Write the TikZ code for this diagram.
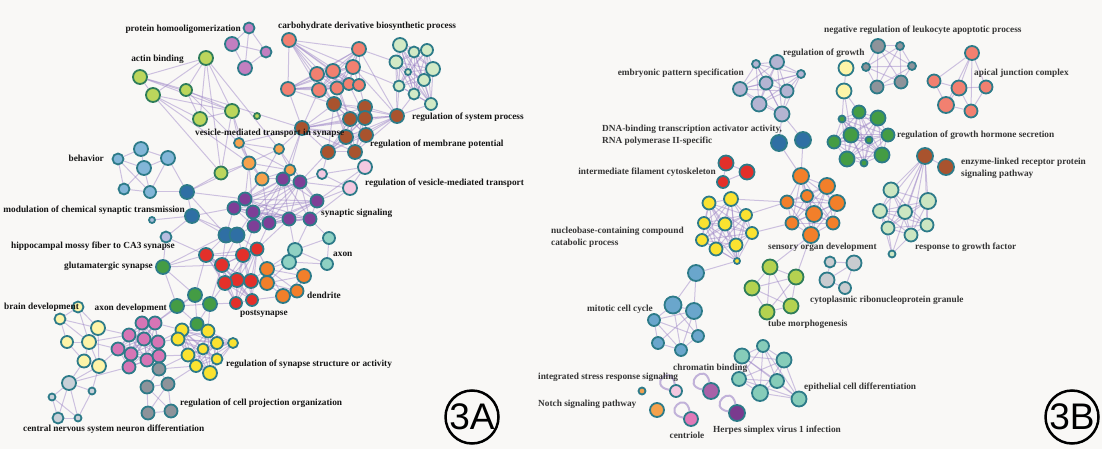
\documentclass[tikz,border=0pt]{standalone}
\usepackage{fontspec}
\setmainfont{Liberation Serif}
\newfontfamily\sansf{Liberation Sans}
\pgfdeclarelayer{back}
\pgfdeclarelayer{bg}
\pgfsetlayers{back,bg,main}
\definecolor{bgc}{HTML}{F9F8F6}
\definecolor{edc}{HTML}{9C84C6}
\definecolor{olT}{HTML}{2D7B89}
\definecolor{olG}{HTML}{2F7D5A}
\definecolor{cPHO}{HTML}{C27FC0}
\definecolor{cACT}{HTML}{BCD65C}
\definecolor{cBEH}{HTML}{82B6D8}
\definecolor{cBLU}{HTML}{2F6FA4}
\definecolor{cSM}{HTML}{A9BCD9}
\definecolor{cHIP}{HTML}{B8BDE0}
\definecolor{cSAL}{HTML}{F28070}
\definecolor{cBRN}{HTML}{A9532E}
\definecolor{cLGR}{HTML}{D2EAC6}
\definecolor{cORG}{HTML}{F6A24C}
\definecolor{cPUR}{HTML}{7E3F97}
\definecolor{cLPK}{HTML}{F4C8E0}
\definecolor{cRED}{HTML}{E3302A}
\definecolor{cDOR}{HTML}{F27F2A}
\definecolor{cTEA}{HTML}{8FD1C3}
\definecolor{cGRN}{HTML}{449C44}
\definecolor{cLYE}{HTML}{FDF4A8}
\definecolor{cLGY}{HTML}{C8D0D8}
\definecolor{cPNK}{HTML}{D675B5}
\definecolor{cGRY}{HTML}{8D939A}
\definecolor{cYEL}{HTML}{FAE230}
\definecolor{cLAV}{HTML}{B4B4D2}
\definecolor{cPGB}{HTML}{CCE6C2}
\definecolor{cYGB}{HTML}{B4D250}
\definecolor{cMBB}{HTML}{6AA6CC}
\definecolor{cTGB}{HTML}{86CCB9}
\definecolor{cLGB}{HTML}{C9CCD0}
\definecolor{cOR1}{HTML}{F0A050}
\definecolor{cPU1}{HTML}{A862A8}
\definecolor{cPK1}{HTML}{E079B8}
\definecolor{cDP1}{HTML}{7A3A8E}
\definecolor{labA}{HTML}{161616}
\definecolor{labB}{HTML}{363636}
\newcommand\cl[4]{\foreach \x/\y/\d [count=\k] in {#4}
  {\node[nd,fill=#2,draw=#3,minimum size=\d pt] (#1\k) at (\x,\y) {};}}
\newcommand\clq[2]{\foreach \i in {1,...,#2}{\foreach \j in {1,...,#2}{\ifnum\i<\j \draw[ed] (#1\i) -- (#1\j);\fi}}}
\newcommand\eds[1]{\foreach \p/\q in {#1} {\draw[ed] (\p) -- (\q);}}
\tikzset{
  nd/.style={circle, inner sep=0pt, line width=1.8pt},
  ed/.style={draw=edc, line width=1pt, opacity=0.48},
  lpst/.style={draw=edc, line width=2pt, opacity=0.6},
  lab/.style={inner sep=0pt, font=\bfseries\fontsize{9.3}{12}\selectfont, text=labA},
  labb/.style={lab, text=labB},
  tag/.style={circle, draw=black, line width=2.5pt, minimum size=53pt, inner sep=0pt, font=\sansf\fontsize{37}{40}\selectfont}
}
\begin{document}
\begin{tikzpicture}[x=1pt,y=-1pt]
\useasboundingbox (0,0) rectangle (1102,449);
\begin{pgfonlayer}{back}
\fill[bgc] (0,0) rectangle (1102,449);
\end{pgfonlayer}
% ---------------- Panel A nodes
\cl{pho}{cPHO}{olT}{249/28/11,232/44/14,266/52/11,245/68/14}
\cl{act}{cACT}{olG}{206/58/14,140/77/14,153/95/14,186/90/12,232/111/14,200/119/14,221/173/13,257/116/6}
\cl{beh}{cBEH}{olT}{141/149/14,118/159/11,168/158/14,144/168/14,124/189/11,150/192/12}
\cl{blu}{cBLU}{olT}{187/192/14,192/216/14,226/235/15,237/235/15}
\node[nd,fill=cSM,draw=olT,minimum size=6pt] (sm1) at (152,220) {};
\node[nd,fill=cHIP,draw=olT,minimum size=11pt] (hip) at (166,237) {};
\cl{sal}{cSAL}{olT}{289/40/14,359/49/14,353/67/14,317/74/14,333/71/14,288/89/14,319/90/14,337/88/13,349/84/12,359/85/12}
\cl{brn}{cBRN}{olT}{334/104/14,365/107/14,397/116/14,350/119/14,365/118/14,302/128/14,346/137/14,366/135/14,328/152/14,355/152/14}
\cl{lgr}{cLGR}{olT}{400/45/14,414/52/11,427/50/12,396/62/13,433/69/14,408/72/6,424/80/12,399/86/11,414/94/11,431/104/12}
\cl{org}{cORG}{olT}{239/143/10,279/149/10,249/163/13,262/179/13,290/170/11}
\cl{pur}{cPUR}{olT}{283/179/13,300/182/13,245/199/13,234/208/13,253/212/13,254/226/13,269/223/13,289/219/13,310/219/13,317/201/13}
\cl{lpk}{cLPK}{olT}{322/174/10,365/167/14,350/188/14}
\cl{red}{cRED}{olT}{206/255/14,222/265/14,243/255/14,257/249/13,237/280/14,251/281/14,225/283/14,236/303/12,252/300/12}
\cl{dor}{cDOR}{olT}{267/269/14,267/283/14,304/276/14,283/296/14,297/291/13}
\cl{tea}{cTEA}{olT}{329/238/12,295/250/14,289/262/14,327/264/12}
\cl{grn}{cGRN}{olT}{163/267/14,195/295/14,177/306/14,210/304/14,197/324/13}
\cl{lye}{cLYE}{olT}{78/307/11,60/319/11,98/328/14,67/342/12,89/342/14,84/361/13,99/366/14}
\cl{lgy}{cLGY}{olT}{69/383/14,52/397/7,92/391/7,58/418/11,78/418/7}
\cl{pnk}{cPNK}{olT}{142/323/13,155/323/13,129/335/13,144/339/13,158/342/13,118/349/13,131/354/13,147/360/13,159/356/13,129/367/13}
\cl{gry}{cGRY}{olT}{159/369/13,147/387/13,168/384/13,148/413/13,171/411/13}
\cl{yel}{cYEL}{olT}{182/330/13,178/339/13,208/331/13,217/343/12,233/343/10,188/355/13,203/349/11,217/359/11,196/366/12,210/373/14}
% ---------------- Panel B nodes
\cl{lav}{cLAV}{olT}{756/64/8,777/62/14,801/74/8,740/89/14,766/83/13,787/91/13,759/104/15,782/114/15}
\cl{dbl}{cBLU}{olT}{779/143/16,803/140/16}
\cl{rdb}{cRED}{olT}{726/163/15,747/172/15,723/182/12}
\cl{yeb}{cYEL}{olT}{709/203/13,731/199/14,746/215/12,704/223/12,725/224/13,752/233/12,702/240/12,716/249/13,736/245/13,737/261/6}
\cl{orb}{cDOR}{olT}{801/176/16,827/186/16,807/196/12,787/202/13,837/203/16,814/214/16,792/223/13,833/223/13,811/235/16}
\cl{pgb}{cPGB}{olT}{891/190/15,928/201/16,880/211/14,905/212/14,927/225/13,888/228/13,911/235/13,892/254/7}
\cl{brb}{cBRN}{olT}{925/156/16,946/167/16}
\cl{grb}{cGRN}{olT}{859/112/13,878/118/15,842/119/7,888/135/13,851/135/15,869/140/7,834/142/13,882/155/15,847/159/15,864/163/7}
\cl{lyb}{cLYE}{olT}{846/68/15,844/91/15}
\cl{gyb}{cGRY}{olT}{878/46/14,900/46/8,866/67/8,912/66/8,877/87/13,901/82/13}
\cl{sab}{cSAL}{olT}{972/53/14,934/81/13,959/88/15,986/87/13,946/105/16,971/111/13}
\cl{lgb}{cLGB}{olT}{830/262/11,854/263/15,827/280/15,845/288/12}
\cl{ygb}{cYGB}{olG}{770/267/15,796/277/15,752/288/15,791/306/15,767/312/15}
\cl{mbb}{cMBB}{olT}{696/273/16,673/305/17,694/311/16,654/320/12,698/336/12,658/343/12,681/350/12}
\cl{tgb}{cTGB}{olT}{763/346/12,742/356/15,784/360/15,739/379/14,777/381/14,760/393/16,799/399/15}
\node[nd,fill=cLPK,draw=olT,minimum size=12pt] (lp1) at (676,391) {};
\node[nd,fill=cPU1,draw=olT,minimum size=16pt] (pu1) at (711,391) {};
\node[nd,fill=cOR1,draw=olT,minimum size=7pt] (so1) at (642,391) {};
\node[nd,fill=cORG,draw=olT,minimum size=14pt] (or1) at (657,410) {};
\node[nd,fill=cPK1,draw=olT,minimum size=14pt] (pk1) at (691,419) {};
\node[nd,fill=cDP1,draw=olT,minimum size=16pt] (dp1) at (737,413) {};
% ---------------- Edges
\begin{pgfonlayer}{bg}
\eds{pho1/pho2,pho1/pho3,pho2/pho3,pho2/pho4,pho4/pho3,pho1/pho4}
\eds{act1/act2,act1/act3,act1/act4,act1/act5,act1/act6,act1/act7,act2/act4,act2/act5,act3/act5,act3/act7,act4/act5,act6/act5,act3/act6,act5/act7,act4/act6,act2/act3}
\eds{act5/org1,act5/org3,act3/org3,act4/org1,act7/blu1,act7/org3,act1/org2,act2/brn6}
\eds{beh1/beh2,beh1/beh3,beh1/beh4,beh2/beh4,beh2/beh5,beh2/beh6,beh4/beh3,beh4/beh5,beh4/beh6,beh3/beh6,beh5/beh6,beh6/blu1,beh3/blu1}
\clq{sal}{10}
\clq{brn}{10}
\eds{sal6/brn6,sal7/brn1,sal8/brn4,sal10/brn2,sal4/brn1,sal1/brn1,sal3/brn3,sal2/brn3,sal6/brn1,sal7/brn6,sal9/brn5,sal5/brn4}
\clq{lgr}{10}
\eds{lgr4/brn3,lgr8/brn3,lgr9/brn3,lgr10/brn3,lgr8/sal3,lgr4/sal2}
\eds{brn6/org2,brn6/org1,brn6/pur1,brn9/lpk1,brn10/lpk2,brn9/pur2,brn7/lpk2,brn6/org5}
\clq{org}{5}
\eds{org4/pur1,org4/pur3,org3/pur3,org5/pur1,org5/pur2,org4/pur4,org2/pur10,org3/pur5,org4/pur7}
\clq{pur}{10}
\eds{pur10/lpk3,pur2/lpk1,pur2/lpk3,pur10/lpk2,pur9/lpk3}
\eds{lpk1/lpk2,lpk1/lpk3,lpk2/lpk3}
\eds{blu1/blu2,blu2/blu3,blu3/blu4,blu1/blu3,blu2/blu4,blu1/pur3,blu2/pur4,blu3/pur4,blu4/pur5,blu4/pur6,blu3/red1,blu3/red2,blu4/red3,blu4/red4,blu3/grn1,blu4/red2,blu2/hip,sm1/blu2,blu1/org3}
\clq{red}{9}
\eds{red4/dor1,red6/dor2,red6/dor1,red3/pur6,red4/pur7,red4/pur8,red5/dor2,red9/dor4}
\clq{dor}{5}
\eds{tea1/tea2,tea1/tea4,tea2/tea3,tea2/tea4,tea3/tea4,tea3/dor1,tea3/dor3,tea2/pur9,tea3/dor2,tea2/dor1,tea2/pur8,tea1/pur9}
\eds{grn1/grn2,grn1/grn3,grn2/grn3,grn2/grn4,grn3/grn4,grn2/grn5,grn4/grn5,grn3/grn5,grn1/red1,grn1/red2,grn2/red1,grn4/red7,grn4/red2,grn1/hip,grn3/pnk2,grn5/yel3,grn5/yel1,grn4/yel3,grn2/pnk2,grn4/red8,hip/red1}
\clq{yel}{10}
\clq{pnk}{10}
\eds{pnk5/yel2,pnk9/yel6,pnk5/yel1,pnk2/yel1,pnk3/lye3,pnk6/lye5,pnk6/lye7,pnk10/lgy1,pnk3/lye5}
\eds{gry1/gry2,gry1/gry3,gry2/gry3,gry2/gry4,gry3/gry5,gry2/gry5,gry3/gry4,gry4/gry5,gry1/pnk9,gry1/pnk8,gry1/yel6,gry1/yel9,gry3/yel9}
\eds{lye1/lye2,lye1/lye3,lye1/lye5,lye2/lye3,lye2/lye4,lye3/lye5,lye4/lye5,lye4/lye6,lye5/lye6,lye5/lye7,lye6/lye7,lye3/lye7,lye2/lye5,lye6/lgy1,lye7/lgy1,lye7/lgy3}
\eds{lgy1/lgy2,lgy1/lgy3,lgy2/lgy4,lgy1/lgy4,lgy4/lgy5,lgy2/lgy5,lgy3/lgy5,lgy1/lgy5}
% Panel B
\clq{lav}{8}
\eds{lav8/dbl1,lav8/dbl2,dbl2/orb1,dbl1/orb1}
\eds{rdb1/rdb2,rdb1/rdb3,rdb2/rdb3}
\clq{yeb}{10}
\clq{orb}{9}
\eds{yeb3/orb4,yeb6/orb7,yeb2/orb4,orb9/ygb1,orb9/ygb2,yeb10/mbb1}
\clq{ygb}{5}
\clq{pgb}{7}
\eds{pgb8/pgb6,pgb8/pgb3,pgb8/pgb7,brb1/brb2}
\foreach \k in {1,...,8}{\draw[ed] (brb1) -- (pgb\k);}
\clq{grb}{10}
\eds{lyb1/lyb2,lyb2/grb3,lyb2/grb5,lyb2/grb1}
\clq{gyb}{6}
\eds{sab1/sab2,sab1/sab3,sab1/sab4,sab1/sab5,sab1/sab6,sab2/sab3,sab2/sab5,sab3/sab5,sab3/sab6,sab3/sab4,sab5/sab6,sab4/sab6}
\eds{lgb1/lgb2,lgb1/lgb3,lgb2/lgb3,lgb2/lgb4,lgb3/lgb4}
\eds{mbb1/mbb2,mbb1/mbb3,mbb2/mbb3,mbb2/mbb4,mbb2/mbb5,mbb3/mbb4,mbb3/mbb5,mbb3/mbb6,mbb3/mbb7,mbb4/mbb6,mbb4/mbb7,mbb5/mbb7,mbb6/mbb7,mbb4/mbb5,mbb2/mbb7}
\clq{tgb}{7}
\foreach \n in {lp1,pu1,pk1,dp1}{\draw[lpst] (\n.100) .. controls +(260:22) and +(190:22) .. (\n.170);}
\end{pgfonlayer}
% ---------------- Labels A
\node[lab,anchor=east] (t1) at (241,29) {protein homooligomerization};
\node[lab,anchor=west] (t2) at (278,26) {carbohydrate derivative biosynthetic process};
\node[lab,anchor=east] (t3) at (184,59) {actin binding};
\node[lab,anchor=west] (t4) at (412,117) {regulation of system process};
\node[lab,anchor=west] (t5) at (195,133) {vesicle-mediated transport in synapse};
\node[lab,anchor=west] (t6) at (370,144) {regulation of membrane potential};
\node[lab,anchor=east] (t7) at (104,158) {behavior};
\node[lab,anchor=west] (t8) at (365,183) {regulation of vesicle-mediated transport};
\node[lab,anchor=east] (t9) at (185,210) {modulation of chemical synaptic transmission};
\node[lab,anchor=west] (t10) at (321,213) {synaptic signaling};
\node[lab,anchor=west] (t11) at (11,246) {hippocampal mossy fiber to CA3 synapse};
\node[lab,anchor=west] (t12) at (333,254) {axon};
\node[lab,anchor=east] (t13) at (153,266) {glutamatergic synapse};
\node[lab,anchor=west] (t14) at (307,295) {dendrite};
\node[lab,anchor=west] (t15) at (4,307) {brain development};
\node[lab,anchor=east] (t16) at (167,308) {axon development};
\node[lab,anchor=west] (t17) at (240,314) {postsynapse};
\node[lab,anchor=west] (t18) at (226,364) {regulation of synapse structure or activity};
\node[lab,anchor=west] (t19) at (180,403) {regulation of cell projection organization};
\node[lab,anchor=west] (t20) at (23,429) {central nervous system neuron differentiation};
\node[tag] (tagA) at (472,417) {3A};
% ---------------- Labels B
\node[labb,anchor=west] (u1) at (824,30) {negative regulation of leukocyte apoptotic process};
\node[labb,anchor=west] (u2) at (783,53) {regulation of growth};
\node[labb,anchor=east] (u3) at (744,73) {embryonic pattern specification};
\node[labb,anchor=west] (u4) at (974,73) {apical junction complex};
\node[labb,anchor=west,align=left] (u5) at (602,135) {DNA-binding transcription activator activity,\\RNA polymerase II-specific};
\node[labb,anchor=west] (u6) at (897,135) {regulation of growth hormone secretion};
\node[labb,anchor=west,align=left] (u7) at (961,168) {enzyme-linked receptor protein\\signaling pathway};
\node[labb,anchor=east] (u8) at (716,172) {intermediate filament cytoskeleton};
\node[labb,anchor=west,align=left] (u9) at (551,237) {nucleobase-containing compound\\catabolic process};
\node[labb,anchor=west] (u10) at (768,247) {sensory organ development};
\node[labb,anchor=west] (u11) at (915,247) {response to growth factor};
\node[labb,anchor=west] (u12) at (810,300) {cytoplasmic ribonucleoprotein granule};
\node[labb,anchor=east] (u13) at (653,309) {mitotic cell cycle};
\node[labb,anchor=west] (u14) at (768,324) {tube morphogenesis};
\node[labb,anchor=west] (u15) at (673,368) {chromatin binding};
\node[labb,anchor=west] (u16) at (538,377) {integrated stress response signaling};
\node[labb,anchor=west] (u17) at (804,387) {epithelial cell differentiation};
\node[labb,anchor=west] (u18) at (538,404) {Notch signaling pathway};
\node[labb,anchor=west] (u19) at (713,430) {Herpes simplex virus 1 infection};
\node[labb] (u20) at (687,435) {centriole};
\node[tag] (tagB) at (1072,417) {3B};
\end{tikzpicture}
\end{document}
